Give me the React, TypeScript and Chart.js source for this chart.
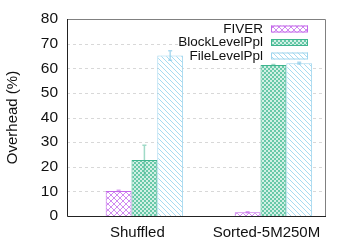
import React, { useEffect, useRef } from "react";
import { Chart, registerables } from "chart.js";

Chart.register(...registerables);

const categories = ["Shuffled", "Sorted-5M250M"];
const seriesNames = ["FIVER", "BlockLevelPpl", "FileLevelPpl"];
const fiverValues = [10.2, 1.5];
const blockValues = [22.7, 61.3];
const fileValues = [65.2, 62.0];
const fiverLow = [9.9, 1.3];
const fiverHigh = [10.5, 1.7];
const blockLow = [16.6, 61.1];
const blockHigh = [28.7, 61.5];
const fileLow = [63.2, 61.7];
const fileHigh = [67.1, 62.4];
const yTicks = [0, 10, 20, 30, 40, 50, 60, 70, 80];

const FONT = "'Liberation Sans', Arial, Helvetica, sans-serif";

function makePattern(kind: string): CanvasPattern | string {
  const c = document.createElement("canvas");
  const ctx = c.getContext("2d")!;
  if (kind === "cross") {
    c.width = 6; c.height = 6;
    ctx.fillStyle = "#ffffff"; ctx.fillRect(0, 0, 6, 6);
    ctx.strokeStyle = "#d08af0"; ctx.lineWidth = 1;
    ctx.beginPath();
    ctx.moveTo(0, 0); ctx.lineTo(6, 6);
    ctx.moveTo(0, 6); ctx.lineTo(6, 0);
    ctx.stroke();
  } else if (kind === "checker") {
    c.width = 4; c.height = 4;
    ctx.fillStyle = "#d2f0e5"; ctx.fillRect(0, 0, 4, 4);
    ctx.fillStyle = "#68c8a8";
    ctx.fillRect(0, 0, 2, 2);
    ctx.fillRect(2, 2, 2, 2);
  } else {
    c.width = 5; c.height = 5;
    ctx.fillStyle = "#ffffff"; ctx.fillRect(0, 0, 5, 5);
    ctx.strokeStyle = "#a6dbf1"; ctx.lineWidth = 1;
    ctx.beginPath();
    ctx.moveTo(-1, -1); ctx.lineTo(6, 6);
    ctx.moveTo(-1, 4); ctx.lineTo(1, 6);
    ctx.moveTo(4, -1); ctx.lineTo(6, 1);
    ctx.stroke();
  }
  return ctx.createPattern(c, "repeat") || "#fff";
}

export default function App() {
  const ref = useRef<HTMLCanvasElement | null>(null);
  useEffect(() => {
    if (!ref.current) return;
    const borders = ["#c466ea", "#3fb58f", "#9fd5ee"];
    const errColors = ["rgba(196,102,234,0.6)", "rgba(63,181,143,0.5)", "rgba(120,195,230,0.6)"];
    const fills = [makePattern("cross"), makePattern("checker"), makePattern("diag")];
    const values = [fiverValues, blockValues, fileValues];
    const lows = [fiverLow, blockLow, fileLow];
    const highs = [fiverHigh, blockHigh, fileHigh];

    const datasets = seriesNames.map((name, s) => ({
      label: name,
      data: categories.map((_, i) => ({ x: i, y: values[s][i] })),
      backgroundColor: fills[s] as any,
      borderColor: borders[s],
      borderWidth: 1,
      categoryPercentage: 0.6,
      barPercentage: 1.0,
    }));

    const plugin = {
      id: "custom",
      beforeDatasetsDraw(chart: any) {
        const { ctx, chartArea, scales } = chart;
        const y = scales.y;
        ctx.save();
        ctx.strokeStyle = "#d8d8d8";
        ctx.lineWidth = 1;
        ctx.setLineDash([3, 3]);
        yTicks.forEach((t) => {
          if (t === 0 || t === 80) return;
          const py = Math.round(y.getPixelForValue(t)) + 0.5;
          ctx.beginPath();
          ctx.moveTo(chartArea.left, py);
          ctx.lineTo(chartArea.right, py);
          ctx.stroke();
        });
        ctx.setLineDash([]);
        ctx.fillStyle = "#ffffff";
        ctx.fillRect(chartArea.right - 130, chartArea.top + 1, 129, 43);
        ctx.restore();
      },
      afterDatasetsDraw(chart: any) {
        const { ctx, chartArea, scales } = chart;
        const y = scales.y;
        ctx.save();
        seriesNames.forEach((_, s) => {
          const meta = chart.getDatasetMeta(s);
          meta.data.forEach((bar: any, i: number) => {
            const x = bar.x;
            const yl = y.getPixelForValue(lows[s][i]);
            const yh = y.getPixelForValue(highs[s][i]);
            ctx.strokeStyle = errColors[s];
            ctx.lineWidth = 1.5;
            ctx.beginPath();
            ctx.moveTo(x, yl); ctx.lineTo(x, yh);
            ctx.moveTo(x - 2, yl); ctx.lineTo(x + 2, yl);
            ctx.moveTo(x - 2, yh); ctx.lineTo(x + 2, yh);
            ctx.stroke();
          });
        });
        ctx.lineWidth = 1;
        ctx.strokeStyle = "#808080";
        ctx.beginPath();
        ctx.moveTo(chartArea.left, chartArea.top + 0.5);
        ctx.lineTo(chartArea.right + 0.5, chartArea.top + 0.5);
        ctx.lineTo(chartArea.right + 0.5, chartArea.bottom);
        ctx.stroke();
        ctx.strokeStyle = "#222222";
        ctx.beginPath();
        ctx.moveTo(chartArea.left + 0.5, chartArea.top);
        ctx.lineTo(chartArea.left + 0.5, chartArea.bottom + 0.5);
        ctx.lineTo(chartArea.right + 1, chartArea.bottom + 0.5);
        ctx.stroke();
        ctx.font = `13.5px ${FONT}`;
        ctx.textAlign = "right";
        ctx.textBaseline = "middle";
        seriesNames.forEach((name, s) => {
          const cy = chartArea.top + 10 + s * 13.5;
          ctx.fillStyle = "#111111";
          ctx.fillText(name, chartArea.right - 62, cy);
          ctx.fillStyle = fills[s] as any;
          ctx.fillRect(chartArea.right - 54, cy - 3.5, 37, 7);
          ctx.strokeStyle = borders[s];
          ctx.strokeRect(chartArea.right - 53.5, cy - 3, 36, 6);
        });
        ctx.restore();
      },
    };

    const chart = new Chart(ref.current, {
      type: "bar",
      data: { datasets: datasets as any },
      options: {
        animation: false,
        responsive: false,
        maintainAspectRatio: false,
        layout: { padding: { left: 0, top: 19, right: 29, bottom: 0 } },
        plugins: { legend: { display: false }, tooltip: { enabled: false } },
        scales: {
          x: {
            type: "linear",
            min: -0.6,
            max: 1.4,
            offset: false,
            grid: { display: false, drawTicks: false },
            border: { display: false },
            afterBuildTicks: (scale: any) => {
              scale.ticks = categories.map((_, i) => ({ value: i }));
            },
            afterFit: (scale: any) => {
              scale.height = 32;
            },
            ticks: {
              autoSkip: false,
              maxRotation: 0,
              padding: 8,
              labelOffset: -7,
              color: "#111111",
              font: { family: FONT, size: 15 },
              callback: (v: any) => categories[Math.round(Number(v))] ?? "",
            },
          },
          y: {
            min: 0,
            max: 80,
            grid: { display: false, drawTicks: false },
            border: { display: false },
            afterBuildTicks: (scale: any) => {
              scale.ticks = yTicks.map((v) => ({ value: v }));
            },
            afterFit: (scale: any) => {
              scale.width = 67;
            },
            ticks: {
              padding: 9,
              color: "#111111",
              font: { family: FONT, size: 15.5 },
            },
            title: {
              display: true,
              text: "Overhead (%)",
              color: "#111111",
              font: { family: FONT, size: 15 },
              padding: { top: 4, bottom: 0 },
            },
          },
        },
      },
      plugins: [plugin],
    });
    return () => chart.destroy();
  }, []);

  return (
    <div style={{ position: "fixed", left: 0, top: 0, width: 354, height: 248, background: "#fff" }}>
      <canvas ref={ref} width={354} height={248} style={{ display: "block" }} />
    </div>
  );
}
